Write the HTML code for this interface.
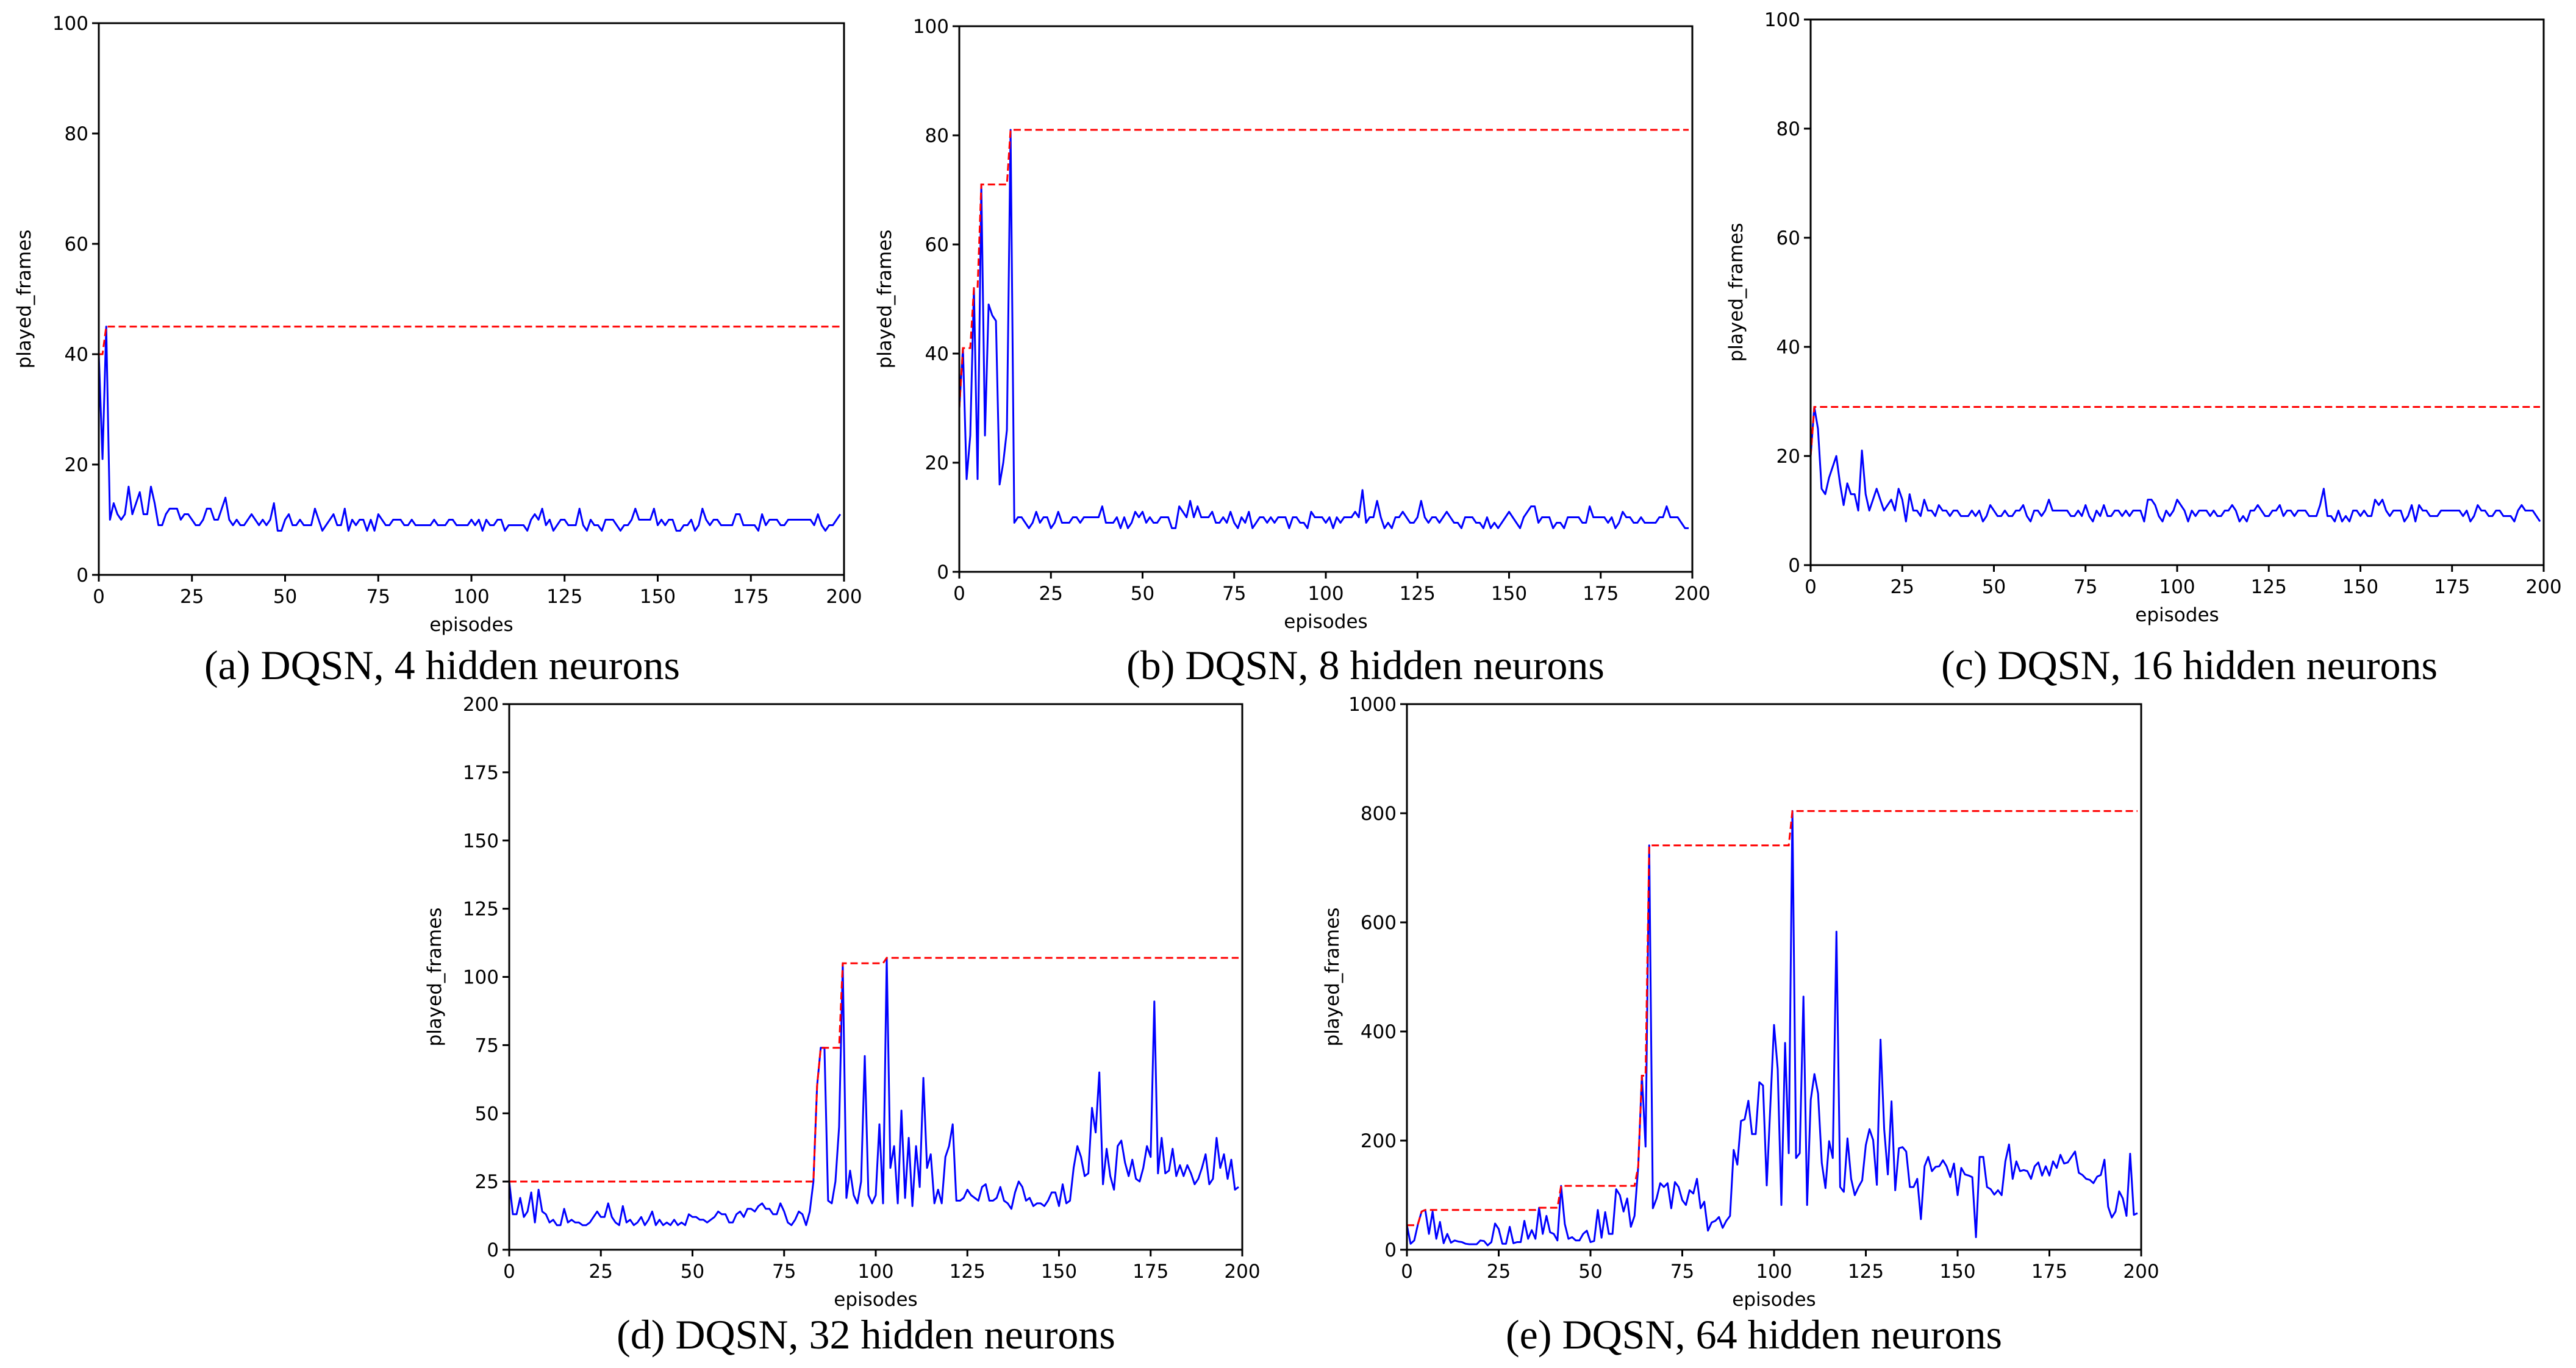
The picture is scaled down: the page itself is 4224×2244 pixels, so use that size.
<!DOCTYPE html>
<html><head><meta charset="utf-8">
<style>
html,body{margin:0;padding:0;background:#fff;}
svg{display:block;}
.tick{font-family:"DejaVu Sans","Liberation Sans",sans-serif;font-size:31px;fill:#000;}
.cap{font-family:"Liberation Serif",serif;font-size:68px;fill:#000;}
</style></head>
<body>
<svg id="fig" width="4224" height="2244" viewBox="0 0 4224 2244" xmlns="http://www.w3.org/2000/svg"></svg>
<script>
const xTickLabels = [0,25,50,75,100,125,150,175,200];
const yTicksSmall = [0,20,40,60,80,100];
const yTicksD = [0,25,50,75,100,125,150,175,200];
const yTicksE = [0,200,400,600,800,1000];

const framesA = [40,21,45,10,13,11,10,11,16,11, 13,15,11,11,16,13,9,9,11,12, 12,12,10,11,11,10,9,9,10,12, 12,10,10,12,14,10,9,10,9,9,
 10,11,10,9,10,9,10,13,8,8, 10,11,9,9,10,9,9,9,12,10, 8,9,10,11,9,9,12,8,10,9, 10,10,8,10,8,11,10,9,9,10,
 10,10,9,9,10,9,9,9,9,9, 10,9,9,9,10,10,9,9,9,9, 10,9,10,8,10,9,9,10,10,8, 9,9,9,9,9,8,10,11,10,12,
 9,10,8,9,10,10,9,9,9,12, 9,8,10,9,9,8,10,10,10,9, 8,9,9,10,12,10,10,10,10,12, 9,10,9,10,10,8,8,9,9,10,
 8,9,12,10,9,10,10,9,9,9, 9,11,11,9,9,9,9,8,11,9, 10,10,10,9,9,10,10,10,10,10, 10,10,9,11,9,8,9,9,10,11];

const framesB = [30,41,17,25,52,17,71,25,49,47, 46,16,20,26,81,9,10,10,9,8, 9,11,9,10,10,8,9,11,9,9, 9,10,10,9,10,10,10,10,10,12,
 9,9,9,10,8,10,8,9,11,10, 11,9,10,9,9,10,10,10,8,8, 12,11,10,13,10,12,10,10,10,11, 9,9,10,9,11,9,8,10,9,11,
 8,9,10,10,9,10,9,10,10,10, 8,10,10,9,9,8,11,10,10,10, 9,10,8,10,9,10,10,10,11,10, 15,9,10,10,13,10,8,9,8,10,
 10,11,10,9,9,10,13,10,9,10, 10,9,10,11,10,9,9,8,10,10, 10,9,9,8,10,8,9,8,9,10, 11,10,9,8,10,11,12,12,9,10,
 10,10,8,9,9,8,10,10,10,10, 9,9,12,10,10,10,10,9,10,8, 9,11,10,10,9,9,10,9,9,9, 9,10,10,12,10,10,10,9,8,8];

const framesC = [20,29,25,14,13,16,18,20,15,11, 15,13,13,10,21,13,10,12,14,12, 10,11,12,10,14,12,8,13,10,10, 9,12,10,10,9,11,10,10,9,10,
 10,9,9,9,10,9,10,8,9,11, 10,9,9,10,9,9,10,10,11,9, 8,10,10,9,10,12,10,10,10,10, 10,9,9,10,9,11,9,8,10,9,
 11,9,9,10,10,9,10,9,10,10, 10,8,12,12,11,9,8,10,9,10, 12,11,10,8,10,9,10,10,10,9, 10,9,9,10,10,11,10,8,9,8,
 10,10,11,10,9,9,10,10,11,9, 10,10,9,10,10,10,9,9,9,11, 14,9,9,8,10,8,9,8,10,10, 9,10,9,9,12,11,12,10,9,10,
 10,10,8,9,11,8,11,10,10,9, 9,9,10,10,10,10,10,10,9,10, 8,9,11,10,10,9,9,10,10,9, 9,9,8,10,11,10,10,10,9,8];

const framesD = [25,13,13,19,12,14,21,10,22,14, 13,10,11,9,9,15,10,11,10,10, 9,9,10,12,14,12,12,17,12,10, 9,16,10,11,9,10,12,9,11,14,
 9,11,9,10,9,11,9,10,9,13, 12,12,11,11,10,11,12,14,13,13, 10,10,13,14,12,15,15,14,16,17, 15,15,13,13,17,14,10,9,11,14,
 13,9,14,25,60,74,74,18,17,25, 45,105,19,29,20,17,25,71,20,17, 20,46,17,107,30,38,17,51,19,41, 16,38,23,63,30,35,17,22,17,34,
 38,46,18,18,19,22,20,19,18,23, 24,18,18,19,23,18,17,15,21,25, 23,18,19,16,17,17,16,18,21,21, 16,24,17,18,30,38,34,27,28,52,
 43,65,24,37,27,22,38,40,32,27, 33,26,25,30,38,34,91,28,41,28, 29,37,27,31,27,31,28,24,26,30, 35,24,26,41,30,35,26,33,22,23];

const framesE = [45,11,17,47,70,73,29,70,20,51, 12,29,13,17,15,14,11,10,10,10, 17,16,8,14,48,38,11,11,42,12, 14,14,53,20,36,20,77,29,62,32,
 29,17,117,47,20,23,17,17,29,35, 14,16,73,22,69,29,29,111,100,70, 94,42,62,153,319,189,741,76,94,122, 115,122,76,124,115,91,82,109,103,130,
 76,88,35,50,53,60,40,53,62,183, 156,236,239,273,212,212,307,301,118,266, 412,331,82,379,177,804,168,177,464,82, 275,322,286,159,113,199,168,583,115,106,
 204,130,100,115,127,192,221,201,119,385, 221,138,272,109,186,188,180,115,115,130, 56,153,170,144,152,153,164,153,133,158, 100,150,138,136,133,23,170,170,115,111,
 101,109,100,162,193,130,162,144,146,144, 130,153,160,136,153,136,162,150,174,158, 160,170,180,141,137,130,128,122,134,137, 165,79,59,70,107,94,62,176,64,67];

const NS = "http://www.w3.org/2000/svg";
const fig = document.getElementById('fig');
function mk(tag, attrs, parent){
  const e = document.createElementNS(NS, tag);
  for (const k in attrs) e.setAttribute(k, attrs[k]);
  (parent||fig).appendChild(e);
  return e;
}

function panel(id, L, T, R, B, ymax, yTicks, values, cap, capX, capY, condensed){
  const g = mk('g', {});
  
  
  const xs = v => L + (v/200)*(R-L);
  const ys = v => B - (v/ymax)*(B-T);
  const fam = condensed ? '"DejaVu Sans Condensed","DejaVu Sans",sans-serif' : '"DejaVu Sans",sans-serif';
  xTickLabels.forEach(t => {
    const ln = mk('line', {x1:xs(t), x2:xs(t), y1:B, y2:B+11, stroke:'#000','stroke-width':3}, g);
    
    
    const tx = mk('text', {x:xs(t), y:B+46, 'text-anchor':'middle', class:'tick', 'font-family':fam}, g);
    
    
    tx.textContent = t;
  });
  yTicks.forEach(t => {
    const ln = mk('line', {x1:L-11, x2:L, y1:ys(t), y2:ys(t), stroke:'#000','stroke-width':3}, g);
    
    
    const tx = mk('text', {x:L-17, y:ys(t)+11, 'text-anchor':'end', class:'tick', 'font-family':fam}, g);
    
    
    tx.textContent = t;
  });
  const pts = values.map((v,i) => xs(i).toFixed(1)+','+ys(v).toFixed(1)).join(' ');
  const line = mk('polyline', {points:pts, fill:'none', stroke:'#0000ff','stroke-width':3,'stroke-linejoin':'round'}, g);
  
  
  let m = -Infinity;
  const mpts = values.map((v,i) => { m = Math.max(m, v); return xs(i).toFixed(1)+','+ys(m).toFixed(1); }).join(' ');
  const best = mk('polyline', {points:mpts, fill:'none', stroke:'#ff0000','stroke-width':3,'stroke-dasharray':'12 6'}, g);
  
  
  const fr = mk('rect', {x:L, y:T, width:R-L, height:B-T, fill:'none', stroke:'#000','stroke-width':3}, g);
  
  
  const xl = mk('text', {x:(L+R)/2, y:B+92, 'text-anchor':'middle', class:'tick', 'font-family':fam}, g);
  
  
  xl.textContent = 'episodes';
  const yx = L-112, yy = (T+B)/2;
  const yl = mk('text', {x:yx, y:yy, 'text-anchor':'middle', class:'tick', 'font-family':fam, transform:'rotate(-90 '+yx+' '+yy+')'}, g);
  
  
  yl.textContent = 'played_frames';
  const c = mk('text', {x:capX, y:capY, 'text-anchor':'middle', class:'cap'}, g);
  
  
  c.textContent = cap;
}

panel('a', 162, 38, 1384, 943, 100, yTicksSmall, framesA, '(a) DQSN, 4 hidden neurons', 725, 1114, false);
panel('b', 1573, 43, 2775, 938, 100, yTicksSmall, framesB, '(b) DQSN, 8 hidden neurons', 2239, 1114, false);
panel('c', 2969, 32, 4171, 927, 100, yTicksSmall, framesC, '(c) DQSN, 16 hidden neurons', 3590, 1114, false);
panel('d', 835, 1155, 2037, 2050, 200, yTicksD, framesD, '(d) DQSN, 32 hidden neurons', 1420, 2212, true);
panel('e', 2307, 1155, 3511, 2050, 1000, yTicksE, framesE, '(e) DQSN, 64 hidden neurons', 2876, 2212, true);
</script>
</body></html>
